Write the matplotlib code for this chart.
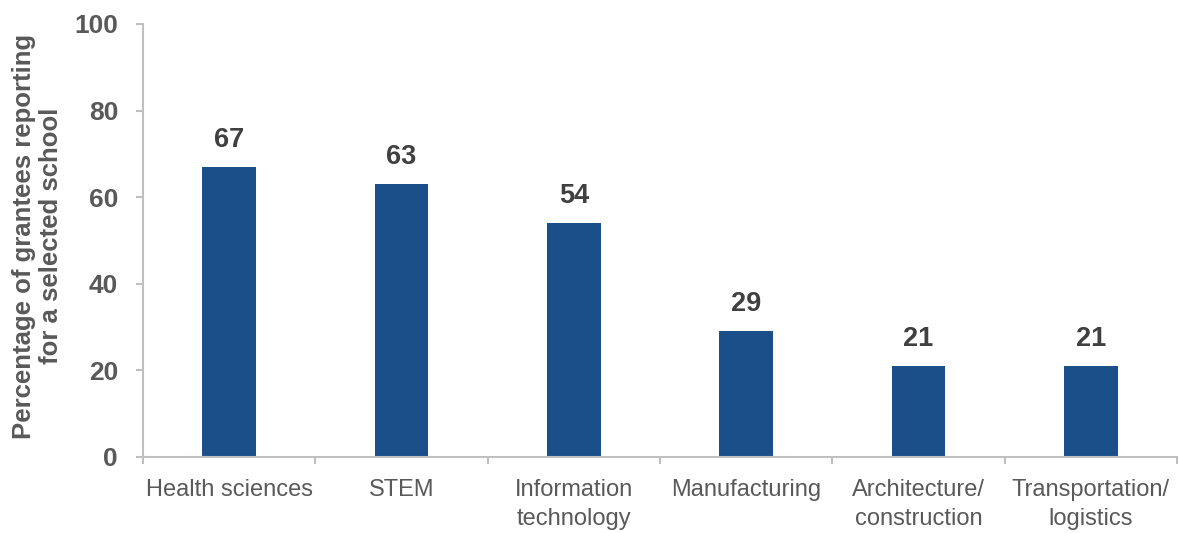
import matplotlib.pyplot as plt
import numpy as np

# Career pathways offered at the selected schools
categories = ["Health sciences", "STEM", "Information\ntechnology",
              "Manufacturing", "Architecture/\nconstruction", "Transportation/\nlogistics"]
percent = [67, 63, 54, 29, 21, 21]
y_ticks = [0, 20, 40, 60, 80, 100]

bar_color = "#1B4F8A"
axis_color = "#BFBFBF"
text_gray = "#595959"

fig = plt.figure(figsize=(11.79, 5.33), dpi=100)
ax = fig.add_axes([0.1213, 0.1426, 0.877, 0.8124])

x = np.arange(len(categories))
ax.bar(x, percent, width=0.31, color=bar_color, zorder=2)

for xi, v in zip(x, percent):
    ax.text(xi, v + 3.3, str(v), ha="center", va="bottom", fontsize=19.5,
            fontweight="bold", color="#404040", family="Liberation Sans")

ax.set_xlim(-0.5, len(categories) - 0.5)
ax.set_ylim(0, 100)
ax.set_yticks(y_ticks)
ax.set_yticklabels([str(t) for t in y_ticks], fontsize=19, fontweight="bold",
                   color=text_gray, family="Liberation Sans")

ax.set_xticks(x)
ax.set_xticklabels(categories, fontsize=17, color=text_gray,
                   family=["Liberation Sans Narrow", "Liberation Sans"],
                   linespacing=1.4)
ax.set_xticks(np.arange(-0.5, len(categories)), minor=True)
ax.tick_params(axis="x", which="major", length=0, pad=16)
ax.tick_params(axis="x", which="minor", length=5, width=1.5, color=axis_color,
               direction="out")
ax.tick_params(axis="y", length=5, width=1.5, color=axis_color, pad=13)

for side in ["top", "right"]:
    ax.spines[side].set_visible(False)
for side in ["left", "bottom"]:
    ax.spines[side].set_color(axis_color)
    ax.spines[side].set_linewidth(1.5)

ax.set_ylabel("Percentage of grantees reporting\nfor a selected school", fontsize=18.5,
              fontweight="bold", color=text_gray, family="Liberation Sans",
              linespacing=1.2)
ax.yaxis.set_label_coords(-0.077, 0.51)

fig.savefig("out.png", dpi=100)
